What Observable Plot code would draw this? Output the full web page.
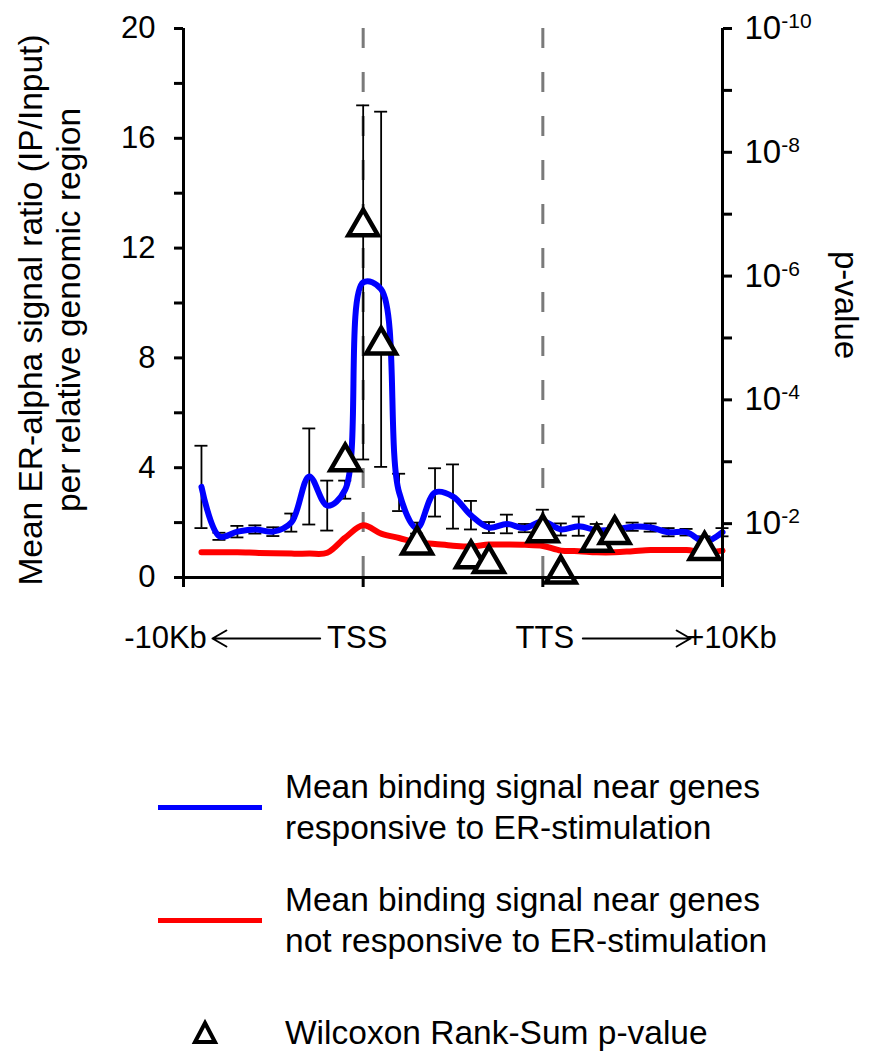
<!DOCTYPE html>
<html>
<head>
<meta charset="utf-8">
<script src="https://cdn.jsdelivr.net/npm/d3@7"></script>
<script src="https://cdn.jsdelivr.net/npm/@observablehq/plot@0.6"></script>
<style>
  html, body { margin: 0; padding: 0; background: #fff; }
  body { width: 872px; height: 1053px; position: relative; overflow: hidden;
         font-family: "Liberation Sans", Arial, sans-serif; color: #000; }
  #chart { position: absolute; left: 0; top: 0; }
  .lg-text { position: absolute; left: 285px; font-size: 33.5px; line-height: 41px; white-space: nowrap; }
  .lg-line { position: absolute; left: 158px; width: 104px; height: 5px; }
  .lg-sym { position: absolute; left: 190px; }
</style>
</head>
<body>
<div id="chart"></div>
<div id="legend"></div>
<script>
// ---- data (bin index: 0 = -10Kb, 10 = TSS, 20 = TTS, 30 = +10Kb) ----
const bins = [1, 2, 3, 4, 5, 6, 7, 8, 9, 10, 11, 12, 13, 14, 15, 16, 17, 18, 19, 20, 21, 22, 23, 24, 25, 26, 27, 28, 29, 30];
const responsive = [3.3, 1.5, 1.67, 1.75, 1.67, 2.0, 3.68, 2.62, 3.2, 10.75, 10.5, 3.1, 1.8, 3.1, 2.95, 2.27, 1.82, 1.95, 1.8, 2.05, 1.75, 1.87, 1.72, 1.75, 1.85, 1.82, 1.65, 1.65, 1.3, 1.65];
const responsiveErr = [1.5, 0.13, 0.21, 0.15, 0.16, 0.33, 1.75, 0.91, 0.33, 6.45, 6.47, 0.68, 0.2, 0.88, 1.17, 0.52, 0.2, 0.34, 0.15, 0.42, 0.22, 0.35, 0.23, 0.15, 0.15, 0.15, 0.15, 0.12, 0.2, 0.15];
const notResponsive = [0.92, 0.92, 0.92, 0.9, 0.88, 0.87, 0.87, 0.9, 1.45, 1.9, 1.6, 1.44, 1.28, 1.22, 1.16, 1.13, 1.2, 1.2, 1.19, 1.15, 0.98, 0.96, 0.92, 0.92, 0.96, 1.0, 1.0, 1.0, 0.92, 0.98];

const pBins = [9, 10, 11, 13, 16, 17, 20, 21, 23, 24, 29];
const pValues = [1.0e-3, 1.6e-7, 1.3e-5, 0.022, 0.037, 0.044, 0.014, 0.065, 0.020, 0.015, 0.027];

const regionBounds = [10, 20];          // TSS, TTS
const frameX = [0, 30];
const leftMajor = [0, 4, 8, 12, 16, 20];
const leftMinor = [2, 6, 10, 14, 18];
const rightMajorExp = [-10, -8, -6, -4, -2];
const rightMinorExp = [-9, -7, -5, -3];
const xTicks = [0, 10, 20, 30];

const leftLabel = "Mean ER-alpha signal ratio (IP/Input)\nper relative genomic region";
const rightLabel = "p-value";
const bottomLabels = [
  {x: 0, text: "-10Kb", shift: -18},
  {x: 10, text: "TSS", shift: -6},
  {x: 20, text: "TTS", shift: 2},
  {x: 30, text: "+10Kb", shift: 9}
];
const bottomArrows = [
  {from: 10, to: 0, insetStart: 43, insetEnd: 29},
  {from: 20, to: 30, insetStart: 40, insetEnd: 32}
];

const legendItems = [
  {kind: "line", color: "#0000ff", lines: ["Mean binding signal near genes", "responsive to ER-stimulation"]},
  {kind: "line", color: "#ff0000", lines: ["Mean binding signal near genes", "not responsive to ER-stimulation"]},
  {kind: "tri", color: "#000", lines: ["Wilcoxon Rank-Sum p-value"]}
];

// ---- secondary (p-value) axis mapped onto the left scale ----
const yTop = 20, pTopExp = 10, pBottomExp = 1.13;
const K = yTop / (pTopExp - pBottomExp);
const pToY = p => (-Math.log10(p) - pBottomExp) * K;
const expToY = e => (-e - pBottomExp) * K;

const blueData = bins.map((x, i) => ({x, y: responsive[i], e: responsiveErr[i]}));
const redData = bins.map((x, i) => ({x, y: notResponsive[i]}));
const triData = pBins.map((x, i) => ({x, p: pValues[i]}));

const font = '"Liberation Sans", Arial, sans-serif';

const plot = Plot.plot({
  width: 872,
  height: 690,
  marginLeft: 183,
  marginRight: 150,
  marginTop: 28,
  marginBottom: 113,
  style: {fontFamily: font, background: "white", overflow: "visible", color: "black"},
  x: {domain: [0, 30]},
  y: {domain: [0, 20]},
  marks: [
    Plot.ruleX(regionBounds, {stroke: "#7a7a7a", strokeWidth: 3, strokeDasharray: "20,24"}),
    // error bars
    Plot.ruleX(blueData, {x: "x", y1: d => d.y - d.e, y2: d => d.y + d.e, stroke: "black", strokeWidth: 1.8}),
    Plot.ruleY(blueData, {y: d => d.y + d.e, x1: "x", x2: "x", insetLeft: -6.5, insetRight: -6.5, stroke: "black", strokeWidth: 1.8}),
    Plot.ruleY(blueData, {y: d => d.y - d.e, x1: "x", x2: "x", insetLeft: -6.5, insetRight: -6.5, stroke: "black", strokeWidth: 1.8}),
    // series
    Plot.line(redData, {x: "x", y: "y", stroke: "#ff0000", strokeWidth: 6, curve: "catmull-rom"}),
    Plot.line(blueData, {x: "x", y: "y", stroke: "#0000ff", strokeWidth: 6, curve: "catmull-rom"}),
    Plot.dot(triData, {x: "x", y: d => pToY(d.p), symbol: "triangle", r: 11, fill: "white", stroke: "black", strokeWidth: 4.5, strokeLinejoin: "miter"}),
    // frame
    Plot.ruleY([0], {stroke: "black", strokeWidth: 3}),
    Plot.ruleX(frameX, {stroke: "black", strokeWidth: 3}),
    Plot.axisX({ticks: xTicks, tickSize: 10, tickFormat: () => "", strokeWidth: 3, label: null}),
    Plot.axisY({ticks: leftMajor, tickSize: 9, tickPadding: 19, fontSize: 31, strokeWidth: 3, label: null}),
    Plot.axisY({ticks: leftMinor, tickSize: 9, tickFormat: () => "", strokeWidth: 3, label: null}),
    Plot.axisY({anchor: "right", ticks: rightMajorExp.map(expToY), tickSize: 9, tickPadding: 13, fontSize: 33, strokeWidth: 3, label: null,
      tickFormat: d => "10^" + Math.round(-(d / K + pBottomExp))}),
    Plot.axisY({anchor: "right", ticks: rightMinorExp.map(expToY), tickSize: 9, tickFormat: () => "", strokeWidth: 3, label: null}),
    // axis titles
    Plot.text([leftLabel], {text: d => d, frameAnchor: "left", textAnchor: "middle", lineAnchor: "middle", rotate: -90, dx: -135, dy: 7, fontSize: 33.5, lineHeight: 1.15}),
    Plot.text([rightLabel], {text: d => d, frameAnchor: "right", textAnchor: "middle", lineAnchor: "middle", rotate: 90, dx: 123, dy: 2, fontSize: 33}),
    // region labels under x axis
    ...bottomLabels.map(b => Plot.text([b], {x: "x", y: () => 0, text: "text", dx: b.shift, dy: 61, fontSize: 31, textAnchor: "middle"})),
    ...bottomArrows.map(a => Plot.arrow([a], {x1: "from", x2: "to", y1: () => 0, y2: () => 0, dy: 61, stroke: "black", strokeWidth: 2, headLength: 12, insetStart: a.insetStart, insetEnd: a.insetEnd}))
  ]
});

document.getElementById("chart").appendChild(plot);

// superscripts on the p-value axis
const ns = "http://www.w3.org/2000/svg";
plot.querySelectorAll("text").forEach(t => {
  const s = t.textContent;
  if (s.startsWith("10^")) {
    const exp = s.slice(3);
    t.textContent = "";
    const base = document.createElementNS(ns, "tspan");
    base.textContent = "10";
    const sup = document.createElementNS(ns, "tspan");
    sup.textContent = exp;
    sup.setAttribute("font-size", "21");
    sup.setAttribute("dy", "-11");
    t.appendChild(base);
    t.appendChild(sup);
  }
});

// legend
const legend = document.getElementById("legend");
const tops = [766, 879, 1012];
legendItems.forEach((item, i) => {
  const top = tops[i];
  const h = item.lines.length * 41;
  const txt = document.createElement("div");
  txt.className = "lg-text";
  txt.style.top = top + "px";
  txt.innerHTML = item.lines.join("<br>");
  legend.appendChild(txt);
  if (item.kind === "line") {
    const ln = document.createElement("div");
    ln.className = "lg-line";
    ln.style.background = item.color;
    ln.style.top = (top + h / 2 - 2.5) + "px";
    legend.appendChild(ln);
  } else {
    const svg = document.createElementNS(ns, "svg");
    svg.setAttribute("width", "30");
    svg.setAttribute("height", "30");
    svg.setAttribute("class", "lg-sym");
    svg.style.top = (top + h / 2 - 15) + "px";
    const poly = document.createElementNS(ns, "polygon");
    poly.setAttribute("points", "15,5 25,24 5,24");
    poly.setAttribute("fill", "white");
    poly.setAttribute("stroke", item.color);
    poly.setAttribute("stroke-width", "4");
    svg.appendChild(poly);
    legend.appendChild(svg);
  }
});
</script>
</body>
</html>
